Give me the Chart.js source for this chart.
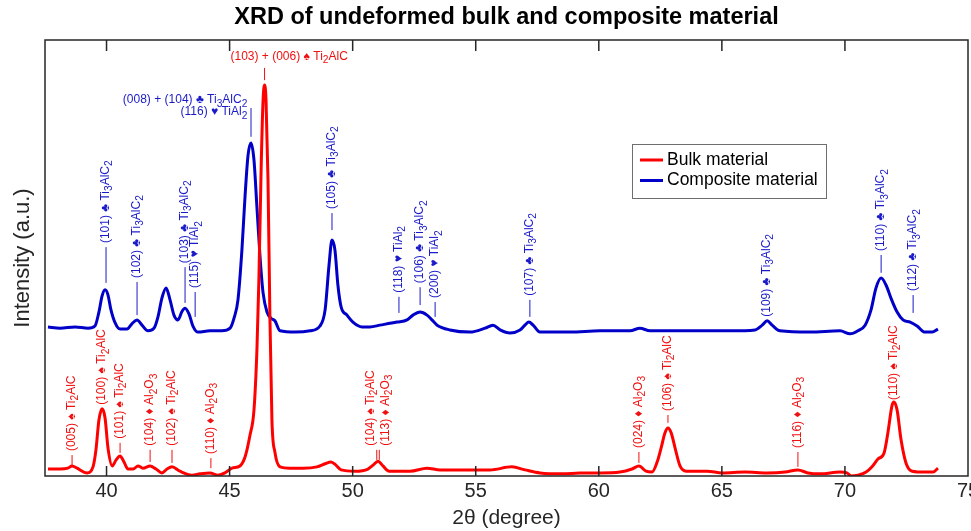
<!DOCTYPE html>
<html><head><meta charset="utf-8">
<script src="https://cdn.jsdelivr.net/npm/chart.js@4.4.1/dist/chart.umd.min.js"></script>
<style>html,body{margin:0;padding:0;background:#fff;}canvas{display:block;}</style>
</head><body>
<canvas id="c" width="971" height="531"></canvas>
<script>
// ---- data ----
const xTicks = [40, 45, 50, 55, 60, 65, 70, 75];

const bulkAngles = [37.62,38.11,38.43,38.60,38.80,39.21,39.45,39.57,39.69,39.82,39.94,40.06,40.23,40.39,40.55,40.71,40.87,41.08,41.28,41.48,41.77,42.01,42.25,42.46,42.66,42.98,43.47,43.80,44.20,44.53,44.81,45.10,45.42,45.63,45.83,45.99,46.11,46.19,46.28,46.36,46.42,46.48,46.56,46.64,46.72,46.84,47.05,47.45,47.98,48.55,48.88,49.12,49.32,49.53,50.10,50.62,50.83,51.03,51.23,51.48,52.33,53.02,53.55,54.56,55.58,56.47,57.00,57.61,58.55,59.24,60.05,60.86,61.35,61.63,61.92,62.16,62.37,62.53,62.69,62.81,62.94,63.10,63.30,63.55,64.40,65.01,65.94,66.83,67.57,68.09,68.50,68.99,69.80,70.08,70.25,70.53,70.86,71.10,71.34,71.59,71.75,71.91,71.99,72.12,72.28,72.48,72.73,73.25,73.58,73.78];
const bulkIntensity = [1.6,1.6,1.8,2.3,1.8,0.7,2.1,6.0,12.8,15.4,13.3,6.4,2.3,3.7,4.6,3.2,1.6,1.6,2.3,1.8,2.3,1.6,0.7,1.6,2.1,1.1,0.2,0.5,0.7,0.2,0.7,1.8,2.3,4.4,9.4,15.1,28.9,45.0,70.2,86.2,89.7,86.2,67.9,35.8,12.8,5.5,2.1,1.8,1.8,2.1,2.8,3.2,2.5,1.4,1.1,1.6,2.5,3.4,2.3,1.1,1.1,1.8,1.4,1.4,1.4,2.1,1.4,0.7,0.5,0.7,0.7,0.9,1.6,2.3,1.1,0.9,3.2,6.4,9.9,11.0,9.9,6.4,2.3,1.1,1.1,0.7,0.9,0.7,0.9,1.4,0.7,0.5,0.9,0.7,0.0,0.2,0.9,2.1,3.9,5.3,10.1,16.1,17.0,15.1,8.3,3.0,1.1,0.9,0.9,1.8];

const compAngles = [37.62,38.11,38.72,39.25,39.53,39.69,39.82,39.94,40.06,40.18,40.35,40.55,40.83,41.03,41.24,41.44,41.68,41.93,42.09,42.25,42.42,42.58,42.74,42.90,43.07,43.19,43.35,43.51,43.72,44.20,44.69,45.02,45.18,45.34,45.50,45.63,45.75,45.87,45.99,46.11,46.24,46.36,46.52,46.68,46.84,47.05,47.66,48.27,48.67,48.88,49.04,49.16,49.28,49.40,49.53,49.77,50.01,50.38,50.70,51.11,51.80,52.21,52.45,52.74,53.02,53.22,53.43,53.95,54.77,55.38,55.70,55.99,56.39,56.80,57.00,57.16,57.33,57.61,58.83,60.05,61.27,61.67,62.08,63.71,65.33,66.35,66.64,66.84,67.04,67.36,68.58,69.80,70.21,70.53,70.82,71.06,71.26,71.47,71.67,71.87,72.12,72.36,72.65,72.93,73.25,73.54,73.78];
const compIntensity = [34.2,33.9,34.2,33.9,34.4,37.6,41.3,42.7,41.5,38.1,35.1,33.7,33.7,34.9,35.8,34.6,33.3,33.9,36.5,40.8,43.1,40.4,36.9,35.8,37.8,38.5,37.2,34.4,33.0,33.3,33.3,33.9,36.2,40.4,51.8,64.4,73.6,76.4,72.5,61.7,50.0,42.0,37.6,36.2,35.6,33.3,33.0,33.3,34.4,38.1,48.4,54.1,51.8,43.8,38.8,36.9,35.3,34.2,34.2,34.6,35.3,35.8,36.9,37.6,36.9,35.8,34.6,33.5,33.0,33.9,34.6,33.5,32.8,33.5,34.6,35.3,34.6,33.0,33.0,33.3,33.3,33.9,33.3,33.3,33.3,33.5,34.6,35.6,34.6,33.3,33.0,33.3,32.6,33.3,34.6,38.1,43.1,45.4,43.8,40.8,37.6,35.8,35.3,34.4,33.0,33.0,33.7];

// peak labels: angle, marker-line span (intensity units), text lines ("_n" = subscript)
const bulkLabels = [
  {at: 38.60, from: 2.5,  to: 4.8,  text: ['(005) ♠ Ti_2AlC']},
  {at: 39.82, from: 15.4, to: 15.4, text: ['(100) ♠ Ti_2AlC']},
  {at: 40.55, from: 5.3,  to: 7.6,  text: ['(101) ♠ Ti_2AlC']},
  {at: 41.77, from: 3.2,  to: 6.0,  text: ['(104) ♦ Al_2O_3']},
  {at: 42.66, from: 3.0,  to: 6.0,  text: ['(102) ♠ Ti_2AlC']},
  {at: 44.24, from: 1.8,  to: 4.1,  text: ['(110) ♦ Al_2O_3']},
  {at: 51.03, from: 3.7,  to: 6.0,  text: ['(104) ♠ Ti_2AlC', '(113) ♦ Al_2O_3']},
  {at: 61.63, from: 3.0,  to: 5.5,  text: ['(024) ♦ Al_2O_3']},
  {at: 62.81, from: 12.2, to: 14.0, text: ['(106) ♠ Ti_2AlC']},
  {at: 68.09, from: 2.1,  to: 5.5,  text: ['(116) ♦ Al_2O_3']},
  {at: 71.99, from: 16.5, to: 16.5, text: ['(110) ♠ Ti_2AlC']}
];
const compLabels = [
  {at: 39.98, from: 44.3, to: 52.5, text: ['(101) ♣ Ti_3AlC_2']},
  {at: 41.24, from: 36.9, to: 44.5, text: ['(102) ♣ Ti_3AlC_2']},
  {at: 43.19, from: 39.7, to: 47.9, text: ['(103) ♣ Ti_3AlC_2']},
  {at: 43.60, from: 36.5, to: 42.2, text: ['(115) ♥ TiAl_2']},
  {at: 49.16, from: 56.4, to: 60.3, text: ['(105) ♣ Ti_3AlC_2']},
  {at: 51.88, from: 37.4, to: 41.1, text: ['(118) ♥ TiAl_2']},
  {at: 52.74, from: 39.2, to: 43.3, text: ['(106) ♣ Ti_3AlC_2']},
  {at: 53.35, from: 36.5, to: 39.9, text: ['(200) ♥ TiAl_2']},
  {at: 57.20, from: 36.5, to: 40.4, text: ['(107) ♣ Ti_3AlC_2']},
  {at: 66.83, from: 35.6, to: 35.6, text: ['(109) ♣ Ti_3AlC_2']},
  {at: 71.47, from: 46.6, to: 50.7, text: ['(110) ♣ Ti_3AlC_2']},
  {at: 72.77, from: 37.4, to: 41.5, text: ['(112) ♣ Ti_3AlC_2']}
];
const bulkTopLabels = [
  {at: 46.42, from: 90.8, to: 93.6, textAt: 47.42, textY: 96.1, align: 'center', text: ['(103) + (006) ♠ Ti_2AlC']}
];
const compTopLabels = [
  {at: 45.87, from: 77.8, to: 84.4, textAt: 45.72, textY: 86.2, align: 'right', text: ['(008) + (104) ♣ Ti_3AlC_2', '(116) ♥ TiAl_2']}
];

const FONT = "'Liberation Sans', Arial, Helvetica, sans-serif";
const RED = '#ff0000', BLUE = '#0000c8';
const RED_TXT = '#f01010', BLUE_TXT = '#1a1ac8';

function segs(text) {
  const out = [];
  const re = /_(\d)/g; let last = 0, m;
  while ((m = re.exec(text))) {
    if (m.index > last) out.push({t: text.slice(last, m.index), sub: false});
    out.push({t: m[1], sub: true});
    last = re.lastIndex;
  }
  if (last < text.length) out.push({t: text.slice(last), sub: false});
  return out;
}
function drawRich(ctx, text, x, y, size, align) {
  const parts = segs(text);
  let w = 0;
  parts.forEach(p => { ctx.font = (p.sub ? size * 0.85 : size) + 'px ' + FONT; p.w = ctx.measureText(p.t).width; w += p.w; });
  let cx = align === 'right' ? x - w : align === 'center' ? x - w / 2 : x;
  ctx.textAlign = 'left'; ctx.textBaseline = 'middle';
  parts.forEach(p => {
    ctx.font = (p.sub ? size * 0.85 : size) + 'px ' + FONT;
    ctx.fillText(p.t, cx, y + (p.sub ? size * 0.3 : 0));
    cx += p.w;
  });
}
function drawRotated(ctx, labels, color, xs, ys) {
  ctx.fillStyle = color; ctx.strokeStyle = color; ctx.lineWidth = 1;
  labels.forEach(l => {
    const px = xs.getPixelForValue(l.at);
    const p0 = ys.getPixelForValue(l.from), p1 = ys.getPixelForValue(l.to);
    const n = l.text.length;
    if (p0 - p1 > 0.5) {
      ctx.beginPath();
      for (let i = 0; i < n; i++) {
        const dx = (i - (n - 1) / 2) * 2.5;
        ctx.moveTo(px + dx, p0); ctx.lineTo(px + dx, p1);
      }
      ctx.stroke();
    }
    ctx.save();
    ctx.translate(px, p1 - 4);
    ctx.rotate(-Math.PI / 2);
    l.text.forEach((t, i) => drawRich(ctx, t, 0, (i - (n - 1) / 2) * 15, 12, 'left'));
    ctx.restore();
  });
}
function drawTop(ctx, labels, color, xs, ys) {
  ctx.fillStyle = color; ctx.strokeStyle = color; ctx.lineWidth = 1;
  labels.forEach(l => {
    const px = xs.getPixelForValue(l.at);
    ctx.beginPath();
    ctx.moveTo(px, ys.getPixelForValue(l.from)); ctx.lineTo(px, ys.getPixelForValue(l.to));
    ctx.stroke();
    const tx = xs.getPixelForValue(l.textAt), ty = ys.getPixelForValue(l.textY);
    l.text.forEach((t, i) => drawRich(ctx, t, tx, ty + i * 12, 12, l.align));
  });
}

const decor = {
  id: 'decor',
  afterDatasetsDraw(chart) {
    const {ctx, chartArea: a, scales: {x, y}} = chart;
    ctx.save();
    // axes box + inward ticks
    ctx.strokeStyle = '#262626'; ctx.lineWidth = 1.5;
    ctx.strokeRect(a.left, a.top, a.right - a.left, a.bottom - a.top);
    ctx.beginPath();
    x.ticks.forEach(t => {
      const px = x.getPixelForValue(t.value);
      if (px >= a.right - 1) return;
      ctx.moveTo(px, a.bottom); ctx.lineTo(px, a.bottom - 10);
      ctx.moveTo(px, a.top); ctx.lineTo(px, a.top + 11);
    });
    ctx.stroke();
    // peak annotations
    drawRotated(ctx, bulkLabels, RED_TXT, x, y);
    drawRotated(ctx, compLabels, BLUE_TXT, x, y);
    drawTop(ctx, bulkTopLabels, RED_TXT, x, y);
    drawTop(ctx, compTopLabels, BLUE_TXT, x, y);
    // legend
    const lx = a.left + 587, ly = a.top + 104, lw = 194, lh = 54;
    ctx.fillStyle = '#fff'; ctx.fillRect(lx, ly, lw, lh);
    ctx.strokeStyle = '#6e6e6e'; ctx.lineWidth = 1;
    ctx.strokeRect(lx + 0.5, ly + 0.5, lw, lh);
    chart.data.datasets.forEach((ds, i) => {
      const yy = ly + 16 + i * 20.5;
      ctx.strokeStyle = ds.borderColor; ctx.lineWidth = 3;
      ctx.beginPath(); ctx.moveTo(lx + 8, yy); ctx.lineTo(lx + 31, yy); ctx.stroke();
      ctx.fillStyle = '#000'; ctx.font = '17.5px ' + FONT;
      ctx.textAlign = 'left'; ctx.textBaseline = 'middle';
      ctx.fillText(ds.label, lx + 35, yy);
    });
    ctx.restore();
  }
};

new Chart(document.getElementById('c'), {
  type: 'line',
  data: {
    datasets: [
      {label: 'Bulk material', data: bulkAngles.map((a, i) => ({x: a, y: bulkIntensity[i]})),
       borderColor: RED, backgroundColor: RED, borderWidth: 3, pointRadius: 0, fill: false, cubicInterpolationMode: 'monotone'},
      {label: 'Composite material', data: compAngles.map((a, i) => ({x: a, y: compIntensity[i]})),
       borderColor: BLUE, backgroundColor: BLUE, borderWidth: 3, pointRadius: 0, fill: false, cubicInterpolationMode: 'monotone'}
    ]
  },
  options: {
    responsive: false, animation: false, devicePixelRatio: 1,
    layout: {padding: {left: 0, right: 3, top: 0, bottom: 0}},
    plugins: {
      legend: {display: false},
      tooltip: {enabled: false},
      title: {display: true, fullSize: false, text: 'XRD of undeformed bulk and composite material', color: '#000',
        font: {family: FONT, size: 23.5, weight: 'bold', lineHeight: 1.2}, padding: {top: 3.9, bottom: 7.9}}
    },
    scales: {
      x: {
        type: 'linear', min: 37.5, max: 75,
        afterBuildTicks(s) { s.ticks = xTicks.map(v => ({value: v})); },
        afterFit(s) { s.paddingLeft = 0; s.paddingRight = 0; s.height = 55; },
        grid: {display: false, drawTicks: false}, border: {display: false},
        ticks: {padding: 3.5, color: '#262626', maxRotation: 0, autoSkip: false, font: {family: FONT, size: 20, lineHeight: 1.2}},
        title: {display: true, text: '2θ (degree)', color: '#262626', padding: {top: 2.3, bottom: 0},
          font: {family: FONT, size: 21, lineHeight: 1.2}}
      },
      y: {
        min: 0, max: 100,
        grid: {display: false, drawTicks: false}, border: {display: false},
        ticks: {display: false},
        title: {display: true, text: 'Intensity (a.u.)', color: '#262626', padding: {top: 9.8, bottom: 8.8},
          font: {family: FONT, size: 22, lineHeight: 1.2}}
      }
    }
  },
  plugins: [decor]
});
</script>
</body></html>
